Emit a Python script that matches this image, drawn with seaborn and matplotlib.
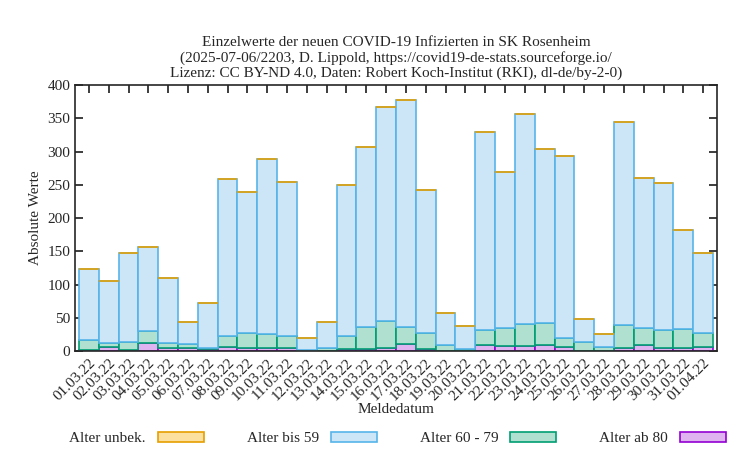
import numpy as np
import matplotlib
matplotlib.use("Agg")
import matplotlib.pyplot as plt
import seaborn as sns

dates = ["01.03.22", "02.03.22", "03.03.22", "04.03.22", "05.03.22", "06.03.22", "07.03.22", "08.03.22",
         "09.03.22", "10.03.22", "11.03.22", "12.03.22", "13.03.22", "14.03.22", "15.03.22", "16.03.22",
         "17.03.22", "18.03.22", "19.03.22", "20.03.22", "21.03.22", "22.03.22", "23.03.22", "24.03.22",
         "25.03.22", "26.03.22", "27.03.22", "28.03.22", "29.03.22", "30.03.22", "31.03.22", "01.04.22"]
total = [124, 106, 147, 157, 110, 44, 72, 258, 239, 289, 254, 19, 43, 250, 307, 367,
         377, 242, 57, 38, 330, 269, 356, 304, 294, 48, 26, 344, 260, 252, 182, 148]
cum_60 = [16, 12, 14, 30, 12, 10, 4, 22, 27, 25, 22, 1, 5, 23, 36, 45,
          36, 27, 9, 3, 31, 35, 40, 42, 20, 13, 6, 39, 34, 31, 33, 27]
ab_80 = [2, 6, 2, 12, 5, 4, 3, 6, 5, 5, 4, 0, 0, 3, 3, 4,
         10, 3, 0, 0, 9, 7, 7, 9, 6, 0, 0, 5, 9, 4, 4, 6]

ab_80 = np.array(ab_80)
age_60_79 = np.array(cum_60) - ab_80
age_bis_59 = np.array(total) - np.array(cum_60)
unbek = np.zeros(len(dates))

sns.set_theme(style="ticks")
plt.rcParams['font.family'] = ['Liberation Serif', 'DejaVu Serif']

fig, ax = plt.subplots(figsize=(7.5, 4.5), dpi=100)
fig.subplots_adjust(left=0.1, right=0.956, top=0.811, bottom=0.22)
x = np.arange(len(dates))

b1 = ax.bar(x, ab_80, width=1, color="#dfb3f0", edgecolor="#9400d3", linewidth=1.2, label="Alter ab 80")
b2 = ax.bar(x, age_60_79, bottom=ab_80, width=1, color="#b0e0d0", edgecolor="#009e73", linewidth=1.2,
            label="Alter 60 - 79")
b3 = ax.bar(x, age_bis_59, bottom=ab_80 + age_60_79, width=1, color="#cce6f7", edgecolor="#56b4e9",
            linewidth=1.2, label="Alter bis 59")
b0 = ax.bar(x, unbek, bottom=np.array(total), width=1, color="#fbe0a0", edgecolor="#e69f00",
            linewidth=1.2, label="Alter unbek.")

ax.set_xlim(-0.7, len(dates) - 0.3)
ax.set_ylim(0, 400)
ax.set_yticks(range(0, 401, 50))
ax.set_xticks(x)
ax.set_xticklabels(dates, rotation=45, ha="right", rotation_mode="anchor", fontsize=11)
ax.tick_params(axis="both", direction="in", right=True, top=True, labelsize=11)
for s in ax.spines.values():
    s.set_linewidth(1.2)
ax.set_ylabel("Absolute Werte", fontsize=11)
ax.set_xlabel("Meldedatum", fontsize=11, labelpad=0)
ax.set_title("Einzelwerte der neuen COVID-19 Infizierten in SK Rosenheim\n"
             "(2025-07-06/2203, D. Lippold, https://covid19-de-stats.sourceforge.io/\n"
             "Lizenz: CC BY-ND 4.0, Daten: Robert Koch-Institut (RKI), dl-de/by-2-0)",
             fontsize=11, linespacing=1.15)

fig.legend(handles=[b0, b3, b2, b1], loc="lower center", ncol=4, frameon=False,
           bbox_to_anchor=(0.53, -0.02), fontsize=11, markerfirst=False,
           handlelength=3, columnspacing=2.8)

fig.savefig("out.png", dpi=100)
